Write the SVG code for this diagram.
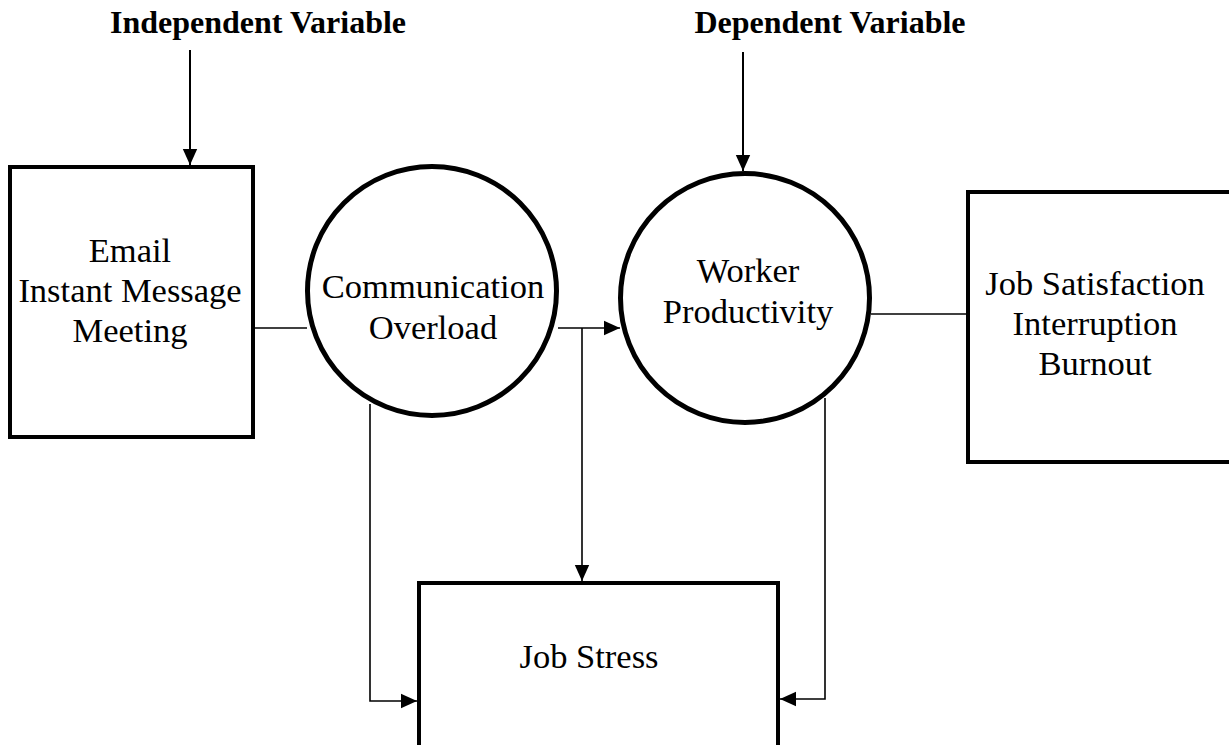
<svg xmlns="http://www.w3.org/2000/svg" width="1229" height="745" viewBox="0 0 1229 745">
<style>
.box{fill:#fff;stroke:#000;stroke-width:4}
.circ{fill:#fff;stroke:#000;stroke-width:5}
.t{font-family:"Liberation Serif","Times New Roman",serif;font-size:34.5px;fill:#000;text-anchor:middle}
.b{font-family:"Liberation Serif","Times New Roman",serif;font-size:32px;font-weight:bold;fill:#000;text-anchor:middle}
.c{fill:none;stroke:#000;stroke-width:1.6}
.ca{fill:none;stroke:#000;stroke-width:2}
</style>
<defs>
<marker id="ah" viewBox="0 0 10 10" refX="10" refY="5" markerWidth="16" markerHeight="16" markerUnits="userSpaceOnUse" orient="auto">
<path d="M0,0.5 L10,5 L0,9.5 z" fill="#000"/>
</marker>
</defs>
<rect width="1229" height="745" fill="#fff"/>
<g id="connectors">
<line class="ca" x1="190" y1="50" x2="190" y2="165" marker-end="url(#ah)"/>
<line class="ca" x1="743" y1="52" x2="743" y2="171" marker-end="url(#ah)"/>
<line class="c" x1="253" y1="328" x2="307" y2="328"/>
<line class="c" x1="558" y1="328" x2="620" y2="328" marker-end="url(#ah)"/>
<line class="c" x1="582" y1="328" x2="582" y2="581" marker-end="url(#ah)"/>
<polyline class="c" points="370,404 370,701 417,701" marker-end="url(#ah)"/>
<polyline class="c" points="825,398 825,699 780,699" marker-end="url(#ah)"/>
<line class="c" x1="871" y1="314" x2="967" y2="314"/>
</g>
<g id="label-independent"><text class="b" x="258" y="33">Independent Variable</text></g>
<g id="label-dependent"><text class="b" x="830" y="33">Dependent Variable</text></g>
<g id="node-media">
<rect class="box" x="10" y="167" width="243" height="270"/>
<text class="t" x="130" y="262">Email</text>
<text class="t" x="130" y="302">Instant Message</text>
<text class="t" x="130" y="342">Meeting</text>
</g>
<g id="node-overload">
<circle class="circ" cx="432" cy="291" r="124.5"/>
<text class="t" x="433" y="298">Communication</text>
<text class="t" x="433" y="339">Overload</text>
</g>
<g id="node-productivity">
<circle class="circ" cx="745" cy="298" r="124.5"/>
<text class="t" x="748" y="282">Worker</text>
<text class="t" x="748" y="323">Productivity</text>
</g>
<g id="node-outcomes">
<rect class="box" x="968" y="192" width="270" height="270"/>
<text class="t" x="1095" y="295">Job Satisfaction</text>
<text class="t" x="1095" y="335">Interruption</text>
<text class="t" x="1095" y="375">Burnout</text>
</g>
<g id="node-stress">
<rect class="box" x="419" y="583" width="359" height="180"/>
<text class="t" x="589" y="668">Job Stress</text>
</g>
</svg>
